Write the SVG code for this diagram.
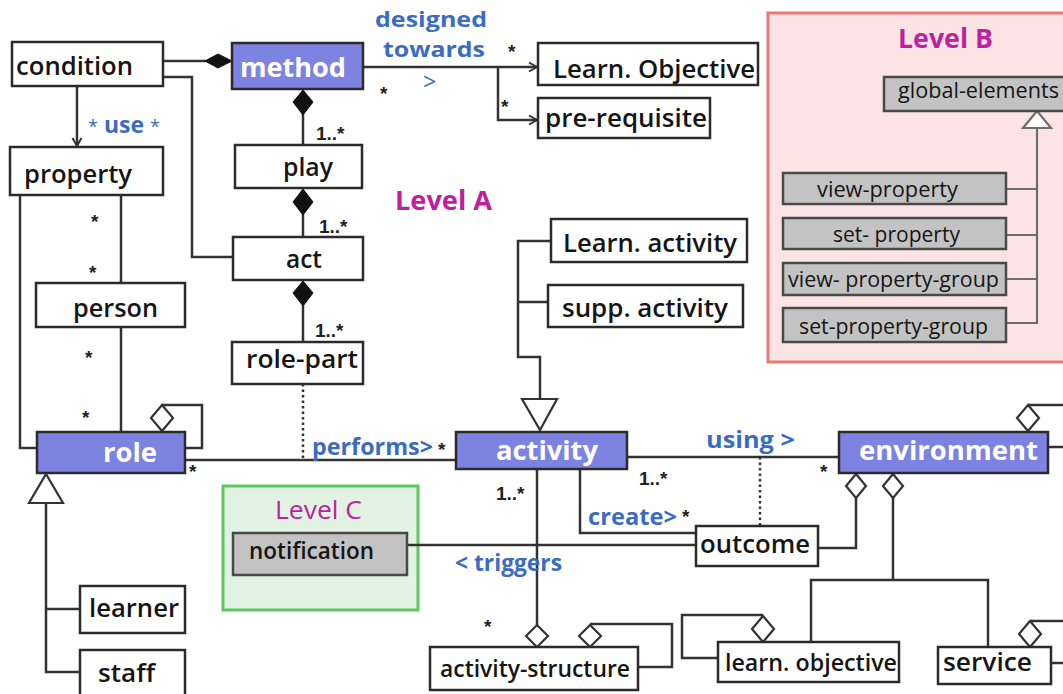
<svg xmlns="http://www.w3.org/2000/svg" width="1063" height="694" viewBox="0 0 1063 694">
<style>
.box{fill:#fff;stroke:#2b2b2b;stroke-width:2.5}
.cls{fill:#7d83e0;stroke:#2b2b2b;stroke-width:2.5}
.gray{fill:#c3c3c3;stroke:#4a4a4a;stroke-width:2.5}
.t{font-family:"Open Sans","Liberation Sans",sans-serif;font-size:26px;font-weight:600;fill:#151515}
.tw{font-family:"Open Sans","Liberation Sans",sans-serif;font-size:27px;font-weight:700;fill:#fff}
.ts{font-family:"Open Sans","Liberation Sans",sans-serif;font-size:21px;font-weight:500;fill:#151515}
.lbl{font-family:"Open Sans","Liberation Sans",sans-serif;font-size:23px;font-weight:700;fill:#3b6cc0}
.m{font-family:"Liberation Sans",sans-serif;font-size:19px;font-weight:700;fill:#222}
.lvl{font-family:"Open Sans","Liberation Sans",sans-serif;font-size:26px;font-weight:700;fill:#c0209f}
.ln{fill:none;stroke:#333;stroke-width:2.5}
.dot{fill:none;stroke:#333;stroke-width:2.5;stroke-dasharray:2.5 3}
.fd{fill:#111;stroke:#111;stroke-width:1}
.hd{fill:#fff;stroke:#333;stroke-width:2.2}
.gl{fill:none;stroke:#6e6e6e;stroke-width:2.2}
</style>
<defs>
<marker id="open" markerWidth="12" markerHeight="12" refX="10" refY="6" orient="auto" markerUnits="userSpaceOnUse">
<path d="M2,1.5 L10,6 L2,10.5" fill="none" stroke="#333" stroke-width="2"/>
</marker>
</defs>

<g id="levelB-frame"><rect x="768" y="13" width="300" height="349" fill="#fce4e4" stroke="#e87878" stroke-width="3"/></g>
<g id="levelC-frame"><rect x="223" y="486" width="195" height="124" fill="#e3f3e3" stroke="#5cc85c" stroke-width="3"/></g>

<g id="connectors">
<path class="ln" d="M163,61 H206"/>
<polygon class="fd" points="205,61 218,54 232,61 218,68"/>
<path class="ln" d="M163,77 H192 V257 H233"/>
<path class="ln" d="M77,86 V146" marker-end="url(#open)"/>
<path class="ln" d="M303,114 V145"/>
<polygon class="fd" points="303,90 313,102 303,115 293,102"/>
<path class="ln" d="M303,214 V237"/>
<polygon class="fd" points="303,189 313,202 303,215 293,202"/>
<path class="ln" d="M303,305 V342"/>
<polygon class="fd" points="303,281 313,293 303,306 293,293"/>
<path class="dot" d="M303,384 V460"/>
<path class="ln" d="M185,460 H456"/>
<path class="ln" d="M20,195 V448 H37"/>
<path class="ln" d="M121,195 V283"/>
<path class="ln" d="M121,327 V432"/>
<path class="ln" d="M162,405 H202 V448 H185"/>
<polygon class="hd" points="162,405 173,418 162,431 151,418"/>
<path class="ln" d="M46,503 V672 H80 M46,609 H80"/>
<polygon class="hd" points="46,474 63,503 29,503"/>
<path class="ln" d="M551,241 H518 V357 H540 V399 M518,302 H548"/>
<polygon class="hd" points="522,399 557,399 540,430"/>
<path class="ln" d="M627,457 H839"/>
<path class="dot" d="M760,457 V526"/>
<path class="ln" d="M580,469 V533 H696"/>
<path class="ln" d="M407,545 H696"/>
<path class="ln" d="M537,469 V625"/>
<polygon class="hd" points="537,625 548,636 537,647 526,636"/>
<path class="ln" d="M590,624 H672 V667 H638"/>
<polygon class="hd" points="590,625 601,636 590,647 579,636"/>
<path class="ln" d="M763,615 H682 V658 H718"/>
<polygon class="hd" points="763,616 774,629 763,642 752,629"/>
<path class="ln" d="M856,497 V548 H818"/>
<polygon class="hd" points="856,474 866,486 856,498 846,486"/>
<path class="ln" d="M893,497 V580 M811,642 V580 H988 V647"/>
<polygon class="hd" points="893,474 903,486 893,498 883,486"/>
<path class="ln" d="M1028,405 H1063 M1048,447 H1063"/>
<polygon class="hd" points="1028,405 1039,418 1028,431 1017,418"/>
<path class="ln" d="M1030,621 H1063 M1051,663 H1063"/>
<polygon class="hd" points="1030,621 1041,634 1030,647 1019,634"/>
<path class="ln" d="M363,67 H537" marker-end="url(#open)"/>
<path class="ln" d="M498,67 V120 H537" marker-end="url(#open)"/>
<path class="gl" d="M1037,128 V323 H1006 M1006,189 H1037 M1006,235 H1037 M1006,279 H1037"/>
<polygon class="hd" style="stroke:#6e6e6e" points="1037,111 1051,128 1023,128"/>
</g>

<g id="labels">
<text class="lbl" x="375" y="27" textLength="112" lengthAdjust="spacingAndGlyphs" style="font-size:21px">designed</text>
<text class="lbl" x="383" y="57" textLength="102" lengthAdjust="spacingAndGlyphs" style="font-size:21px">towards</text>
<text class="lbl" x="423" y="90" style="font-weight:400">&gt;</text>
<text class="lbl" x="88" y="133"><tspan style="font-weight:400;font-size:18px">*</tspan> use <tspan style="font-weight:400;font-size:18px">*</tspan></text>
<text class="lbl" x="312" y="455" textLength="121" lengthAdjust="spacingAndGlyphs">performs&gt;</text>
<text class="lbl" x="706" y="448" textLength="89" lengthAdjust="spacingAndGlyphs">using &gt;</text>
<text class="lbl" x="588" y="525" textLength="89" lengthAdjust="spacingAndGlyphs">create&gt;</text>
<text class="lbl" x="455" y="571" textLength="107" lengthAdjust="spacingAndGlyphs">&lt; triggers</text>
<text class="m" x="316" y="140">1..*</text>
<text class="m" x="319" y="233">1..*</text>
<text class="m" x="315" y="337">1..*</text>
<text class="m" x="380" y="100">*</text>
<text class="m" x="508" y="58">*</text>
<text class="m" x="501" y="113">*</text>
<text class="m" x="91" y="228">*</text>
<text class="m" x="89" y="279">*</text>
<text class="m" x="85" y="364">*</text>
<text class="m" x="82" y="424">*</text>
<text class="m" x="189" y="478">*</text>
<text class="m" x="438" y="456">*</text>
<text class="m" x="639" y="485">1..*</text>
<text class="m" x="820" y="478">*</text>
<text class="m" x="496" y="500">1..*</text>
<text class="m" x="682" y="523">*</text>
<text class="m" x="484" y="633">*</text>
<text class="lvl" x="395" y="210" textLength="97" lengthAdjust="spacingAndGlyphs">Level A</text>
<text class="lvl" x="898" y="48" textLength="95" lengthAdjust="spacingAndGlyphs">Level B</text>
<text class="lvl" x="275" y="519" style="font-weight:500" textLength="87" lengthAdjust="spacingAndGlyphs">Level C</text>
</g>

<g id="condition"><rect class="box" x="12" y="42" width="151" height="44"/><text class="t" x="16" y="75" textLength="117" lengthAdjust="spacingAndGlyphs">condition</text></g>
<g id="method"><rect class="cls" x="232" y="43" width="131" height="46"/><text class="tw" x="240" y="77" textLength="106" lengthAdjust="spacingAndGlyphs">method</text></g>
<g id="play"><rect class="box" x="235" y="145" width="127" height="43"/><text class="t" x="283" y="176" textLength="50" lengthAdjust="spacingAndGlyphs">play</text></g>
<g id="act"><rect class="box" x="233" y="237" width="130" height="43"/><text class="t" x="286" y="268" textLength="36" lengthAdjust="spacingAndGlyphs">act</text></g>
<g id="role-part"><rect class="box" x="232" y="342" width="131" height="42"/><text class="t" x="246" y="368" textLength="112" lengthAdjust="spacingAndGlyphs">role-part</text></g>
<g id="property"><rect class="box" x="10" y="147" width="153" height="48"/><text class="t" x="24" y="183" textLength="108" lengthAdjust="spacingAndGlyphs">property</text></g>
<g id="person"><rect class="box" x="36" y="283" width="149" height="44"/><text class="t" x="73" y="317" textLength="85" lengthAdjust="spacingAndGlyphs">person</text></g>
<g id="role"><rect class="cls" x="37" y="432" width="148" height="41"/><text class="tw" x="103" y="462" textLength="54" lengthAdjust="spacingAndGlyphs">role</text></g>
<g id="activity"><rect class="cls" x="456" y="432" width="171" height="37"/><text class="tw" x="496" y="460" textLength="102" lengthAdjust="spacingAndGlyphs">activity</text></g>
<g id="environment"><rect class="cls" x="839" y="432" width="209" height="41"/><text class="tw" x="859" y="460" textLength="179" lengthAdjust="spacingAndGlyphs">environment</text></g>
<g id="learn-activity"><rect class="box" x="551" y="219" width="196" height="43"/><text class="t" x="563" y="252" textLength="174" lengthAdjust="spacingAndGlyphs">Learn. activity</text></g>
<g id="supp-activity"><rect class="box" x="548" y="285" width="195" height="42"/><text class="t" x="562" y="317" textLength="166" lengthAdjust="spacingAndGlyphs">supp. activity</text></g>
<g id="learn-objective-top"><rect class="box" x="538" y="43" width="220" height="42"/><text class="t" x="553" y="78" textLength="202" lengthAdjust="spacingAndGlyphs">Learn. Objective</text></g>
<g id="pre-requisite"><rect class="box" x="538" y="98" width="172" height="40"/><text class="t" x="545" y="127" textLength="162" lengthAdjust="spacingAndGlyphs">pre-requisite</text></g>
<g id="outcome"><rect class="box" x="696" y="526" width="122" height="40"/><text class="t" x="700" y="553" textLength="110" lengthAdjust="spacingAndGlyphs">outcome</text></g>
<g id="activity-structure"><rect class="box" x="430" y="647" width="208" height="43"/><text class="t" x="440" y="677" textLength="190" lengthAdjust="spacingAndGlyphs" style="font-size:23px">activity-structure</text></g>
<g id="learn-objective"><rect class="box" x="718" y="642" width="181" height="40"/><text class="t" x="725" y="671" textLength="172" lengthAdjust="spacingAndGlyphs" style="font-size:23px">learn. objective</text></g>
<g id="service"><rect class="box" x="938" y="647" width="113" height="37"/><text class="t" x="943" y="671" textLength="89" lengthAdjust="spacingAndGlyphs">service</text></g>
<g id="learner"><rect class="box" x="80" y="586" width="105" height="47"/><text class="t" x="89" y="617" textLength="90" lengthAdjust="spacingAndGlyphs">learner</text></g>
<g id="staff"><rect class="box" x="80" y="650" width="105" height="50"/><text class="t" x="98" y="682" textLength="57" lengthAdjust="spacingAndGlyphs">staff</text></g>
<g id="notification"><rect class="gray" x="233" y="533" width="174" height="42"/><text class="t" x="249" y="559" textLength="125" lengthAdjust="spacingAndGlyphs" style="font-size:23px">notification</text></g>
<g id="global-elements"><rect class="gray" x="884" y="77" width="182" height="34"/><text class="ts" x="898" y="98" textLength="161" lengthAdjust="spacingAndGlyphs">global-elements</text></g>
<g id="view-property"><rect class="gray" x="783" y="173" width="223" height="31"/><text class="ts" x="817" y="197" textLength="141" lengthAdjust="spacingAndGlyphs">view-property</text></g>
<g id="set-property"><rect class="gray" x="783" y="218" width="223" height="31"/><text class="ts" x="833" y="242" textLength="127" lengthAdjust="spacingAndGlyphs">set- property</text></g>
<g id="view-property-group"><rect class="gray" x="783" y="263" width="223" height="32"/><text class="ts" x="788" y="287" textLength="211" lengthAdjust="spacingAndGlyphs">view- property-group</text></g>
<g id="set-property-group"><rect class="gray" x="783" y="308" width="223" height="34"/><text class="ts" x="799" y="334" textLength="189" lengthAdjust="spacingAndGlyphs">set-property-group</text></g>
</svg>
